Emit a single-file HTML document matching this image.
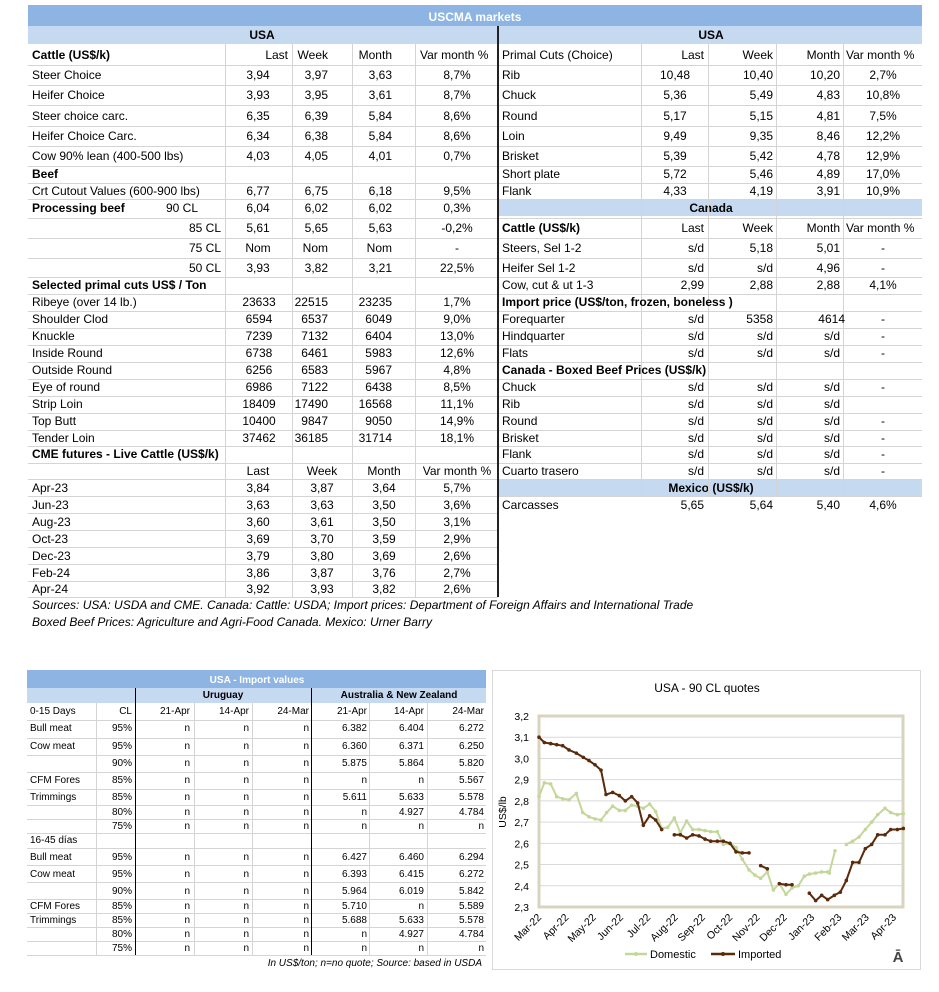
<!DOCTYPE html>
<html><head><meta charset="utf-8"><style>
body{margin:0;width:939px;height:992px;background:#fff;position:relative;overflow:hidden;font-family:"Liberation Sans",Arial,sans-serif;color:#000}
.t{position:absolute;font-size:12px;line-height:14px;white-space:nowrap}
.b{font-weight:bold}
.c{transform:translateX(-50%)}
.s{position:absolute;font-size:10px;line-height:12px;white-space:nowrap}
.h{position:absolute;height:1px;background:#d4d4d4}
.v{position:absolute;width:1px;background:#d4d4d4}
</style></head><body>
<!-- top bands -->
<div style="position:absolute;left:28px;top:5px;width:894px;height:21px;background:#8db4e2"></div>
<div class="t b c" style="left:475px;top:10px;color:#fff">USCMA markets</div>
<div style="position:absolute;left:28px;top:26px;width:894px;height:18px;background:#c5d9f1"></div>
<div class="t b c" style="left:262px;top:28px">USA</div>
<div class="t b c" style="left:711px;top:28px">USA</div>
<div style="position:absolute;left:499px;top:199px;width:423px;height:17px;background:#c5d9f1"></div>
<div class="t b c" style="left:711px;top:201px">Canada</div>
<div style="position:absolute;left:499px;top:479px;width:423px;height:17px;background:#c5d9f1"></div>
<div class="t b c" style="left:711px;top:481px">Mexico (US$/k)</div>
<!-- grid -->
<div class="h" style="left:28px;width:894px;top:65px"></div>
<div class="h" style="left:28px;width:894px;top:85px"></div>
<div class="h" style="left:28px;width:894px;top:105px"></div>
<div class="h" style="left:28px;width:894px;top:126px"></div>
<div class="h" style="left:28px;width:894px;top:146px"></div>
<div class="h" style="left:28px;width:894px;top:166px"></div>
<div class="h" style="left:28px;width:894px;top:183px"></div>
<div class="h" style="left:28px;width:894px;top:199px"></div>
<div class="h" style="left:28px;width:894px;top:218px"></div>
<div class="h" style="left:28px;width:894px;top:238px"></div>
<div class="h" style="left:28px;width:894px;top:258px"></div>
<div class="h" style="left:28px;width:894px;top:277px"></div>
<div class="h" style="left:28px;width:894px;top:294px"></div>
<div class="h" style="left:28px;width:894px;top:311px"></div>
<div class="h" style="left:28px;width:894px;top:328px"></div>
<div class="h" style="left:28px;width:894px;top:345px"></div>
<div class="h" style="left:28px;width:894px;top:362px"></div>
<div class="h" style="left:28px;width:894px;top:379px"></div>
<div class="h" style="left:28px;width:894px;top:396px"></div>
<div class="h" style="left:28px;width:894px;top:413px"></div>
<div class="h" style="left:28px;width:894px;top:430px"></div>
<div class="h" style="left:28px;width:894px;top:446px"></div>
<div class="h" style="left:28px;width:894px;top:463px"></div>
<div class="h" style="left:28px;width:894px;top:479px"></div>
<div class="h" style="left:28px;width:894px;top:496px"></div>
<div class="h" style="left:28px;width:470px;top:513px"></div>
<div class="h" style="left:28px;width:470px;top:530px"></div>
<div class="h" style="left:28px;width:470px;top:547px"></div>
<div class="h" style="left:28px;width:470px;top:564px"></div>
<div class="h" style="left:28px;width:470px;top:581px"></div>
<div class="h" style="left:28px;width:470px;top:597px"></div>
<div class="v" style="left:225px;top:44px;height:553px"></div>
<div class="v" style="left:292px;top:44px;height:553px"></div>
<div class="v" style="left:352px;top:44px;height:553px"></div>
<div class="v" style="left:415px;top:44px;height:553px"></div>
<div class="v" style="left:641px;top:44px;height:452px"></div>
<div class="v" style="left:708px;top:44px;height:452px"></div>
<div class="v" style="left:776px;top:44px;height:452px"></div>
<div class="v" style="left:843px;top:44px;height:452px"></div>
<div style="position:absolute;left:497px;top:26px;width:2px;height:571px;background:#222"></div>

<!-- left table -->
<div class="t b" style="left:32px;top:48px">Cattle (US$/k)</div>
<div class="t" style="right:651px;top:48px">Last</div>
<div class="t" style="right:611px;top:48px">Week</div>
<div class="t" style="right:547px;top:48px">Month</div>
<div class="t" style="left:420px;top:48px">Var month %</div>

<div class="t" style="left:32px;top:68px">Steer Choice</div><div class="t c" style="left:258px;top:68px">3,94</div><div class="t" style="right:611px;top:68px">3,97</div><div class="t" style="right:547px;top:68px">3,63</div><div class="t c" style="left:457px;top:68px">8,7%</div>
<div class="t" style="left:32px;top:88px">Heifer Choice</div><div class="t c" style="left:258px;top:88px">3,93</div><div class="t" style="right:611px;top:88px">3,95</div><div class="t" style="right:547px;top:88px">3,61</div><div class="t c" style="left:457px;top:88px">8,7%</div>
<div class="t" style="left:32px;top:109px">Steer choice carc.</div><div class="t c" style="left:258px;top:109px">6,35</div><div class="t" style="right:611px;top:109px">6,39</div><div class="t" style="right:547px;top:109px">5,84</div><div class="t c" style="left:457px;top:109px">8,6%</div>
<div class="t" style="left:32px;top:129px">Heifer Choice Carc.</div><div class="t c" style="left:258px;top:129px">6,34</div><div class="t" style="right:611px;top:129px">6,38</div><div class="t" style="right:547px;top:129px">5,84</div><div class="t c" style="left:457px;top:129px">8,6%</div>
<div class="t" style="left:32px;top:149px">Cow 90% lean (400-500 lbs)</div><div class="t c" style="left:258px;top:149px">4,03</div><div class="t" style="right:611px;top:149px">4,05</div><div class="t" style="right:547px;top:149px">4,01</div><div class="t c" style="left:457px;top:149px">0,7%</div>
<div class="t b" style="left:32px;top:167px">Beef</div>
<div class="t" style="left:32px;top:184px">Crt Cutout Values (600-900 lbs)</div><div class="t c" style="left:258px;top:184px">6,77</div><div class="t" style="right:611px;top:184px">6,75</div><div class="t" style="right:547px;top:184px">6,18</div><div class="t c" style="left:457px;top:184px">9,5%</div>
<div class="t b" style="left:32px;top:201px">Processing beef</div><div class="t" style="left:166px;top:201px">90 CL</div><div class="t c" style="left:258px;top:201px">6,04</div><div class="t" style="right:611px;top:201px">6,02</div><div class="t" style="right:547px;top:201px">6,02</div><div class="t c" style="left:457px;top:201px">0,3%</div>
<div class="t" style="right:718px;top:221px">85 CL</div><div class="t c" style="left:258px;top:221px">5,61</div><div class="t" style="right:611px;top:221px">5,65</div><div class="t" style="right:547px;top:221px">5,63</div><div class="t c" style="left:457px;top:221px">-0,2%</div>
<div class="t" style="right:718px;top:241px">75 CL</div><div class="t c" style="left:258px;top:241px">Nom</div><div class="t" style="right:611px;top:241px">Nom</div><div class="t" style="right:547px;top:241px">Nom</div><div class="t c" style="left:457px;top:241px">-</div>
<div class="t" style="right:718px;top:261px">50 CL</div><div class="t c" style="left:258px;top:261px">3,93</div><div class="t" style="right:611px;top:261px">3,82</div><div class="t" style="right:547px;top:261px">3,21</div><div class="t c" style="left:457px;top:261px">22,5%</div>
<div class="t b" style="left:32px;top:278px">Selected primal cuts US$ / Ton</div>
<div class="t" style="left:32px;top:295px">Ribeye (over 14 lb.)</div><div class="t c" style="left:259px;top:295px">23633</div><div class="t" style="right:611px;top:295px">22515</div><div class="t" style="right:547px;top:295px">23235</div><div class="t c" style="left:457px;top:295px">1,7%</div>
<div class="t" style="left:32px;top:312px">Shoulder Clod</div><div class="t c" style="left:259px;top:312px">6594</div><div class="t" style="right:611px;top:312px">6537</div><div class="t" style="right:547px;top:312px">6049</div><div class="t c" style="left:457px;top:312px">9,0%</div>
<div class="t" style="left:32px;top:329px">Knuckle</div><div class="t c" style="left:259px;top:329px">7239</div><div class="t" style="right:611px;top:329px">7132</div><div class="t" style="right:547px;top:329px">6404</div><div class="t c" style="left:457px;top:329px">13,0%</div>
<div class="t" style="left:32px;top:346px">Inside Round</div><div class="t c" style="left:259px;top:346px">6738</div><div class="t" style="right:611px;top:346px">6461</div><div class="t" style="right:547px;top:346px">5983</div><div class="t c" style="left:457px;top:346px">12,6%</div>
<div class="t" style="left:32px;top:363px">Outside Round</div><div class="t c" style="left:259px;top:363px">6256</div><div class="t" style="right:611px;top:363px">6583</div><div class="t" style="right:547px;top:363px">5967</div><div class="t c" style="left:457px;top:363px">4,8%</div>
<div class="t" style="left:32px;top:380px">Eye of round</div><div class="t c" style="left:259px;top:380px">6986</div><div class="t" style="right:611px;top:380px">7122</div><div class="t" style="right:547px;top:380px">6438</div><div class="t c" style="left:457px;top:380px">8,5%</div>
<div class="t" style="left:32px;top:397px">Strip Loin</div><div class="t c" style="left:259px;top:397px">18409</div><div class="t" style="right:611px;top:397px">17490</div><div class="t" style="right:547px;top:397px">16568</div><div class="t c" style="left:457px;top:397px">11,1%</div>
<div class="t" style="left:32px;top:414px">Top Butt</div><div class="t c" style="left:259px;top:414px">10400</div><div class="t" style="right:611px;top:414px">9847</div><div class="t" style="right:547px;top:414px">9050</div><div class="t c" style="left:457px;top:414px">14,9%</div>
<div class="t" style="left:32px;top:431px">Tender Loin</div><div class="t c" style="left:259px;top:431px">37462</div><div class="t" style="right:611px;top:431px">36185</div><div class="t" style="right:547px;top:431px">31714</div><div class="t c" style="left:457px;top:431px">18,1%</div>
<div class="t b" style="left:32px;top:447px">CME futures - Live Cattle (US$/k)</div>
<div class="t c" style="left:258px;top:464px">Last</div><div class="t c" style="left:322px;top:464px">Week</div><div class="t c" style="left:384px;top:464px">Month</div><div class="t c" style="left:457px;top:464px">Var month %</div>
<div class="t" style="left:32px;top:481px">Apr-23</div><div class="t c" style="left:258px;top:481px">3,84</div><div class="t c" style="left:322px;top:481px">3,87</div><div class="t c" style="left:384px;top:481px">3,64</div><div class="t c" style="left:457px;top:481px">5,7%</div>
<div class="t" style="left:32px;top:498px">Jun-23</div><div class="t c" style="left:258px;top:498px">3,63</div><div class="t c" style="left:322px;top:498px">3,63</div><div class="t c" style="left:384px;top:498px">3,50</div><div class="t c" style="left:457px;top:498px">3,6%</div>
<div class="t" style="left:32px;top:515px">Aug-23</div><div class="t c" style="left:258px;top:515px">3,60</div><div class="t c" style="left:322px;top:515px">3,61</div><div class="t c" style="left:384px;top:515px">3,50</div><div class="t c" style="left:457px;top:515px">3,1%</div>
<div class="t" style="left:32px;top:532px">Oct-23</div><div class="t c" style="left:258px;top:532px">3,69</div><div class="t c" style="left:322px;top:532px">3,70</div><div class="t c" style="left:384px;top:532px">3,59</div><div class="t c" style="left:457px;top:532px">2,9%</div>
<div class="t" style="left:32px;top:549px">Dec-23</div><div class="t c" style="left:258px;top:549px">3,79</div><div class="t c" style="left:322px;top:549px">3,80</div><div class="t c" style="left:384px;top:549px">3,69</div><div class="t c" style="left:457px;top:549px">2,6%</div>
<div class="t" style="left:32px;top:566px">Feb-24</div><div class="t c" style="left:258px;top:566px">3,86</div><div class="t c" style="left:322px;top:566px">3,87</div><div class="t c" style="left:384px;top:566px">3,76</div><div class="t c" style="left:457px;top:566px">2,7%</div>
<div class="t" style="left:32px;top:582px">Apr-24</div><div class="t c" style="left:258px;top:582px">3,92</div><div class="t c" style="left:322px;top:582px">3,93</div><div class="t c" style="left:384px;top:582px">3,82</div><div class="t c" style="left:457px;top:582px">2,6%</div>
<div class="t" style="left:32px;top:598px;font-style:italic">Sources: USA: USDA and CME. Canada: Cattle: USDA; Import prices: Department of Foreign Affairs and International Trade</div>
<div class="t" style="left:32px;top:615px;font-style:italic">Boxed Beef Prices: Agriculture and Agri-Food Canada. Mexico: Urner Barry</div>

<!-- right table -->
<div class="t" style="left:502px;top:48px">Primal Cuts (Choice)</div>
<div class="t" style="right:235px;top:48px">Last</div><div class="t" style="right:166px;top:48px">Week</div><div class="t" style="right:99px;top:48px">Month</div><div class="t" style="left:846px;top:48px">Var month %</div>
<div class="t" style="left:502px;top:68px">Rib</div><div class="t c" style="left:675px;top:68px">10,48</div><div class="t" style="right:166px;top:68px">10,40</div><div class="t" style="right:99px;top:68px">10,20</div><div class="t c" style="left:883px;top:68px">2,7%</div>
<div class="t" style="left:502px;top:88px">Chuck</div><div class="t c" style="left:675px;top:88px">5,36</div><div class="t" style="right:166px;top:88px">5,49</div><div class="t" style="right:99px;top:88px">4,83</div><div class="t c" style="left:883px;top:88px">10,8%</div>
<div class="t" style="left:502px;top:109px">Round</div><div class="t c" style="left:675px;top:109px">5,17</div><div class="t" style="right:166px;top:109px">5,15</div><div class="t" style="right:99px;top:109px">4,81</div><div class="t c" style="left:883px;top:109px">7,5%</div>
<div class="t" style="left:502px;top:129px">Loin</div><div class="t c" style="left:675px;top:129px">9,49</div><div class="t" style="right:166px;top:129px">9,35</div><div class="t" style="right:99px;top:129px">8,46</div><div class="t c" style="left:883px;top:129px">12,2%</div>
<div class="t" style="left:502px;top:149px">Brisket</div><div class="t c" style="left:675px;top:149px">5,39</div><div class="t" style="right:166px;top:149px">5,42</div><div class="t" style="right:99px;top:149px">4,78</div><div class="t c" style="left:883px;top:149px">12,9%</div>
<div class="t" style="left:502px;top:167px">Short plate</div><div class="t c" style="left:675px;top:167px">5,72</div><div class="t" style="right:166px;top:167px">5,46</div><div class="t" style="right:99px;top:167px">4,89</div><div class="t c" style="left:883px;top:167px">17,0%</div>
<div class="t" style="left:502px;top:184px">Flank</div><div class="t c" style="left:675px;top:184px">4,33</div><div class="t" style="right:166px;top:184px">4,19</div><div class="t" style="right:99px;top:184px">3,91</div><div class="t c" style="left:883px;top:184px">10,9%</div>
<div class="t b" style="left:502px;top:221px">Cattle (US$/k)</div><div class="t" style="right:235px;top:221px">Last</div><div class="t" style="right:166px;top:221px">Week</div><div class="t" style="right:99px;top:221px">Month</div><div class="t" style="left:846px;top:221px">Var month %</div>
<div class="t" style="left:502px;top:241px">Steers, Sel 1-2</div><div class="t" style="right:235px;top:241px">s/d</div><div class="t" style="right:166px;top:241px">5,18</div><div class="t" style="right:99px;top:241px">5,01</div><div class="t c" style="left:883px;top:241px">-</div>
<div class="t" style="left:502px;top:261px">Heifer Sel 1-2</div><div class="t" style="right:235px;top:261px">s/d</div><div class="t" style="right:166px;top:261px">s/d</div><div class="t" style="right:99px;top:261px">4,96</div><div class="t c" style="left:883px;top:261px">-</div>
<div class="t" style="left:502px;top:278px">Cow, cut &amp; ut 1-3</div><div class="t" style="right:235px;top:278px">2,99</div><div class="t" style="right:166px;top:278px">2,88</div><div class="t" style="right:99px;top:278px">2,88</div><div class="t c" style="left:883px;top:278px">4,1%</div>
<div class="t b" style="left:502px;top:295px">Import price (US$/ton, frozen, boneless )</div>
<div class="t" style="left:502px;top:312px">Forequarter</div><div class="t" style="right:235px;top:312px">s/d</div><div class="t" style="right:166px;top:312px">5358</div><div class="t" style="right:94px;top:312px">4614</div><div class="t c" style="left:883px;top:312px">-</div>
<div class="t" style="left:502px;top:329px">Hindquarter</div><div class="t" style="right:235px;top:329px">s/d</div><div class="t" style="right:166px;top:329px">s/d</div><div class="t" style="right:99px;top:329px">s/d</div><div class="t c" style="left:883px;top:329px">-</div>
<div class="t" style="left:502px;top:346px">Flats</div><div class="t" style="right:235px;top:346px">s/d</div><div class="t" style="right:166px;top:346px">s/d</div><div class="t" style="right:99px;top:346px">s/d</div><div class="t c" style="left:883px;top:346px">-</div>
<div class="t b" style="left:502px;top:363px">Canada - Boxed Beef Prices (US$/k)</div>
<div class="t" style="left:502px;top:380px">Chuck</div><div class="t" style="right:235px;top:380px">s/d</div><div class="t" style="right:166px;top:380px">s/d</div><div class="t" style="right:99px;top:380px">s/d</div><div class="t c" style="left:883px;top:380px">-</div>
<div class="t" style="left:502px;top:397px">Rib</div><div class="t" style="right:235px;top:397px">s/d</div><div class="t" style="right:166px;top:397px">s/d</div><div class="t" style="right:99px;top:397px">s/d</div>
<div class="t" style="left:502px;top:414px">Round</div><div class="t" style="right:235px;top:414px">s/d</div><div class="t" style="right:166px;top:414px">s/d</div><div class="t" style="right:99px;top:414px">s/d</div><div class="t c" style="left:883px;top:414px">-</div>
<div class="t" style="left:502px;top:431px">Brisket</div><div class="t" style="right:235px;top:431px">s/d</div><div class="t" style="right:166px;top:431px">s/d</div><div class="t" style="right:99px;top:431px">s/d</div><div class="t c" style="left:883px;top:431px">-</div>
<div class="t" style="left:502px;top:447px">Flank</div><div class="t" style="right:235px;top:447px">s/d</div><div class="t" style="right:166px;top:447px">s/d</div><div class="t" style="right:99px;top:447px">s/d</div><div class="t c" style="left:883px;top:447px">-</div>
<div class="t" style="left:502px;top:464px">Cuarto trasero</div><div class="t" style="right:235px;top:464px">s/d</div><div class="t" style="right:166px;top:464px">s/d</div><div class="t" style="right:99px;top:464px">s/d</div><div class="t c" style="left:883px;top:464px">-</div>
<div class="t" style="left:502px;top:498px">Carcasses</div><div class="t" style="right:235px;top:498px">5,65</div><div class="t" style="right:166px;top:498px">5,64</div><div class="t" style="right:99px;top:498px">5,40</div><div class="t c" style="left:883px;top:498px">4,6%</div>

<!-- bottom table -->
<div style="position:absolute;left:27px;top:670px;width:459px;height:18px;background:#8db4e2"></div>
<div class="s b c" style="left:257px;top:675px;color:#fff">USA - Import values</div>
<div style="position:absolute;left:27px;top:688px;width:459px;height:15px;background:#c5d9f1"></div>
<div class="s b c" style="left:223px;top:690px">Uruguay</div>
<div class="s b c" style="left:399px;top:690px">Australia &amp; New Zealand</div>
<div class="h" style="left:27px;width:459px;top:720px"></div>
<div class="h" style="left:27px;width:459px;top:738px"></div>
<div class="h" style="left:27px;width:459px;top:755px"></div>
<div class="h" style="left:27px;width:459px;top:772px"></div>
<div class="h" style="left:27px;width:459px;top:789px"></div>
<div class="h" style="left:27px;width:459px;top:805px"></div>
<div class="h" style="left:27px;width:459px;top:819px"></div>
<div class="h" style="left:27px;width:459px;top:833px"></div>
<div class="h" style="left:27px;width:459px;top:848px"></div>
<div class="h" style="left:27px;width:459px;top:865px"></div>
<div class="h" style="left:27px;width:459px;top:882px"></div>
<div class="h" style="left:27px;width:459px;top:899px"></div>
<div class="h" style="left:27px;width:459px;top:913px"></div>
<div class="h" style="left:27px;width:459px;top:927px"></div>
<div class="h" style="left:27px;width:459px;top:941px"></div>
<div class="h" style="left:27px;width:459px;top:955px"></div>
<div class="v" style="left:96px;top:703px;height:252px"></div>
<div class="v" style="left:194px;top:703px;height:252px"></div>
<div class="v" style="left:252px;top:703px;height:252px"></div>
<div class="v" style="left:369px;top:703px;height:252px"></div>
<div class="v" style="left:427px;top:703px;height:252px"></div>
<div style="position:absolute;left:135px;top:688px;width:1px;height:267px;background:#000"></div>
<div style="position:absolute;left:311px;top:688px;width:1px;height:267px;background:#000"></div>

<div class="s" style="left:30px;top:706px">0-15 Days</div><div class="s" style="right:807px;top:706px">CL</div><div class="s" style="right:749px;top:706px">21-Apr</div><div class="s" style="right:690px;top:706px">14-Apr</div><div class="s" style="right:630px;top:706px">24-Mar</div><div class="s" style="right:572px;top:706px">21-Apr</div><div class="s" style="right:515px;top:706px">14-Apr</div><div class="s" style="right:455px;top:706px">24-Mar</div>
<div class="s" style="left:30px;top:723px">Bull meat</div><div class="s" style="right:807px;top:723px">95%</div><div class="s" style="right:749px;top:723px">n</div><div class="s" style="right:690px;top:723px">n</div><div class="s" style="right:630px;top:723px">n</div><div class="s" style="right:572px;top:723px">6.382</div><div class="s" style="right:515px;top:723px">6.404</div><div class="s" style="right:455px;top:723px">6.272</div>
<div class="s" style="left:30px;top:741px">Cow meat</div><div class="s" style="right:807px;top:741px">95%</div><div class="s" style="right:749px;top:741px">n</div><div class="s" style="right:690px;top:741px">n</div><div class="s" style="right:630px;top:741px">n</div><div class="s" style="right:572px;top:741px">6.360</div><div class="s" style="right:515px;top:741px">6.371</div><div class="s" style="right:455px;top:741px">6.250</div>
<div class="s" style="right:807px;top:758px">90%</div><div class="s" style="right:749px;top:758px">n</div><div class="s" style="right:690px;top:758px">n</div><div class="s" style="right:630px;top:758px">n</div><div class="s" style="right:572px;top:758px">5.875</div><div class="s" style="right:515px;top:758px">5.864</div><div class="s" style="right:455px;top:758px">5.820</div>
<div class="s" style="left:30px;top:775px">CFM Fores</div><div class="s" style="right:807px;top:775px">85%</div><div class="s" style="right:749px;top:775px">n</div><div class="s" style="right:690px;top:775px">n</div><div class="s" style="right:630px;top:775px">n</div><div class="s" style="right:572px;top:775px">n</div><div class="s" style="right:515px;top:775px">n</div><div class="s" style="right:455px;top:775px">5.567</div>
<div class="s" style="left:30px;top:792px">Trimmings</div><div class="s" style="right:807px;top:792px">85%</div><div class="s" style="right:749px;top:792px">n</div><div class="s" style="right:690px;top:792px">n</div><div class="s" style="right:630px;top:792px">n</div><div class="s" style="right:572px;top:792px">5.611</div><div class="s" style="right:515px;top:792px">5.633</div><div class="s" style="right:455px;top:792px">5.578</div>
<div class="s" style="right:807px;top:807px">80%</div><div class="s" style="right:749px;top:807px">n</div><div class="s" style="right:690px;top:807px">n</div><div class="s" style="right:630px;top:807px">n</div><div class="s" style="right:572px;top:807px">n</div><div class="s" style="right:515px;top:807px">4.927</div><div class="s" style="right:455px;top:807px">4.784</div>
<div class="s" style="right:807px;top:821px">75%</div><div class="s" style="right:749px;top:821px">n</div><div class="s" style="right:690px;top:821px">n</div><div class="s" style="right:630px;top:821px">n</div><div class="s" style="right:572px;top:821px">n</div><div class="s" style="right:515px;top:821px">n</div><div class="s" style="right:455px;top:821px">n</div>
<div class="s" style="left:30px;top:835px">16-45 días</div>
<div class="s" style="left:30px;top:852px">Bull meat</div><div class="s" style="right:807px;top:852px">95%</div><div class="s" style="right:749px;top:852px">n</div><div class="s" style="right:690px;top:852px">n</div><div class="s" style="right:630px;top:852px">n</div><div class="s" style="right:572px;top:852px">6.427</div><div class="s" style="right:515px;top:852px">6.460</div><div class="s" style="right:455px;top:852px">6.294</div>
<div class="s" style="left:30px;top:869px">Cow meat</div><div class="s" style="right:807px;top:869px">95%</div><div class="s" style="right:749px;top:869px">n</div><div class="s" style="right:690px;top:869px">n</div><div class="s" style="right:630px;top:869px">n</div><div class="s" style="right:572px;top:869px">6.393</div><div class="s" style="right:515px;top:869px">6.415</div><div class="s" style="right:455px;top:869px">6.272</div>
<div class="s" style="right:807px;top:886px">90%</div><div class="s" style="right:749px;top:886px">n</div><div class="s" style="right:690px;top:886px">n</div><div class="s" style="right:630px;top:886px">n</div><div class="s" style="right:572px;top:886px">5.964</div><div class="s" style="right:515px;top:886px">6.019</div><div class="s" style="right:455px;top:886px">5.842</div>
<div class="s" style="left:30px;top:901px">CFM Fores</div><div class="s" style="right:807px;top:901px">85%</div><div class="s" style="right:749px;top:901px">n</div><div class="s" style="right:690px;top:901px">n</div><div class="s" style="right:630px;top:901px">n</div><div class="s" style="right:572px;top:901px">5.710</div><div class="s" style="right:515px;top:901px">n</div><div class="s" style="right:455px;top:901px">5.589</div>
<div class="s" style="left:30px;top:915px">Trimmings</div><div class="s" style="right:807px;top:915px">85%</div><div class="s" style="right:749px;top:915px">n</div><div class="s" style="right:690px;top:915px">n</div><div class="s" style="right:630px;top:915px">n</div><div class="s" style="right:572px;top:915px">5.688</div><div class="s" style="right:515px;top:915px">5.633</div><div class="s" style="right:455px;top:915px">5.578</div>
<div class="s" style="right:807px;top:929px">80%</div><div class="s" style="right:749px;top:929px">n</div><div class="s" style="right:690px;top:929px">n</div><div class="s" style="right:630px;top:929px">n</div><div class="s" style="right:572px;top:929px">n</div><div class="s" style="right:515px;top:929px">4.927</div><div class="s" style="right:455px;top:929px">4.784</div>
<div class="s" style="right:807px;top:943px">75%</div><div class="s" style="right:749px;top:943px">n</div><div class="s" style="right:690px;top:943px">n</div><div class="s" style="right:630px;top:943px">n</div><div class="s" style="right:572px;top:943px">n</div><div class="s" style="right:515px;top:943px">n</div><div class="s" style="right:455px;top:943px">n</div>
<div class="s" style="right:457px;top:958px;font-style:italic">In US$/ton; n=no quote; Source: based in USDA</div>

<!-- chart -->
<svg style="position:absolute;left:0;top:0" width="939" height="992">
<rect x="492.5" y="670.5" width="428" height="299" fill="#fff" stroke="#d9d9d9"/>
<text x="707" y="692" font-family="Liberation Sans, sans-serif" font-size="12" text-anchor="middle">USA - 90 CL quotes</text>
<g id="grid" stroke="#d9d9d9" stroke-width="1"></g>
<rect x="539" y="716" width="364" height="191" fill="none" stroke="#d8d4bf" stroke-width="3"/>
<g id="ylab" font-family="Liberation Sans, sans-serif" font-size="10.5" text-anchor="end"></g>
<text transform="translate(506,812) rotate(-90)" font-family="Liberation Sans, sans-serif" font-size="10.5" text-anchor="middle">US$/lb</text>
<g id="xlab" font-family="Liberation Sans, sans-serif" font-size="10.5" text-anchor="end"></g>
<g id="series"></g>
<line x1="625" y1="954" x2="647" y2="954" stroke="#c4d79b" stroke-width="2.5"/><circle cx="636" cy="954" r="2" fill="#c4d79b"/>
<text x="650" y="958" font-family="Liberation Sans, sans-serif" font-size="11">Domestic</text>
<line x1="711" y1="954" x2="735" y2="954" stroke="#5a2a0a" stroke-width="2.5"/><circle cx="723" cy="954" r="2" fill="#5a2a0a"/>
<text x="738" y="958" font-family="Liberation Sans, sans-serif" font-size="11">Imported</text>
<text x="898" y="962" font-family="Liberation Sans, sans-serif" font-size="15" font-weight="bold" fill="#444" text-anchor="middle">Ā</text>
</svg>
<script>
var NS="http://www.w3.org/2000/svg";
function el(p,n,a,t){var e=document.createElementNS(NS,n);for(var k in a)e.setAttribute(k,a[k]);if(t)e.textContent=t;p.appendChild(e);return e;}
function Y(v){return 716+(3.2-v)/0.9*191;}
function X(z){return 490+z/3;}
var g=document.getElementById('grid'),yl=document.getElementById('ylab'),xl=document.getElementById('xlab');
for(var i=0;i<=9;i++){var v=2.3+i*0.1,y=Y(v);if(i>0&&i<9)el(g,'line',{x1:539,x2:903,y1:y,y2:y});el(yl,'text',{x:529,y:y+4},v.toFixed(1).replace('.',','));}
var m=["Mar-22","Apr-22","May-22","Jun-22","Jul-22","Aug-22","Sep-22","Oct-22","Nov-22","Dec-22","Jan-23","Feb-23","Mar-23","Apr-23"];
for(var i=0;i<m.length;i++){var x=542+i*27.3;el(xl,'text',{x:x,y:918,transform:'rotate(-45 '+x+' 918)'},m[i]);}
var imp=[[[147,3.10],[163,3.075],[182,3.07],[200,3.065],[218,3.06],[237,3.04],[259,3.025],[280,3.005],[297,2.99],[315,2.97],[333,2.945],[348,2.83],[368,2.84],[388,2.825],[406,2.80],[425,2.82],[443,2.79],[460,2.685],[479,2.73],[497,2.71],[515,2.665]],
[[553,2.64],[571,2.64],[590,2.625],[608,2.64],[627,2.635],[645,2.62],[662,2.61],[682,2.61],[700,2.61],[720,2.60],[738,2.56],[757,2.555],[777,2.555]],
[[812,2.495],[832,2.48]],[[868,2.41],[888,2.405],[906,2.405]],
[[958,2.365],[977,2.33],[995,2.355],[1013,2.335],[1033,2.355],[1051,2.37],[1069,2.425],[1088,2.51],[1107,2.51],[1126,2.575],[1145,2.595],[1163,2.64],[1185,2.64],[1202,2.665],[1222,2.665],[1240,2.67]]];
var dom=[[[147,2.82],[163,2.885],[182,2.88],[200,2.82],[218,2.81],[237,2.805],[259,2.835],[278,2.745],[297,2.725],[315,2.715],[333,2.71],[350,2.745],[368,2.775],[388,2.755],[406,2.755],[425,2.78],[443,2.775],[460,2.765],[479,2.785],[497,2.75],[515,2.67],[533,2.675],[553,2.72],[571,2.65],[590,2.705],[608,2.665],[627,2.665],[645,2.66],[662,2.655],[682,2.655],[700,2.595],[720,2.6],[738,2.58],[757,2.525],[777,2.475],[795,2.45],[812,2.435],[832,2.465],[850,2.38],[868,2.41],[888,2.36],[906,2.39],[925,2.40],[943,2.445],[958,2.455],[977,2.46],[995,2.465],[1013,2.465],[1018,2.46],[1035,2.565]],
[[1069,2.595],[1088,2.61],[1107,2.63],[1126,2.665],[1145,2.70],[1163,2.735],[1185,2.765],[1202,2.745],[1222,2.735],[1240,2.74]]];
var s=document.getElementById('series');
function draw(data,col){data.forEach(function(seg){var d=seg.map(function(p,i){return (i?'L':'M')+X(p[0]).toFixed(1)+' '+Y(p[1]).toFixed(1);}).join(' ');
el(s,'path',{d:d,fill:'none',stroke:col,'stroke-width':2,'stroke-linejoin':'round'});
seg.forEach(function(p){el(s,'circle',{cx:X(p[0]),cy:Y(p[1]),r:1.8,fill:col});});});}
draw(dom,'#c4d79b');draw(imp,'#5a2a0a');
</script>
</body></html>
